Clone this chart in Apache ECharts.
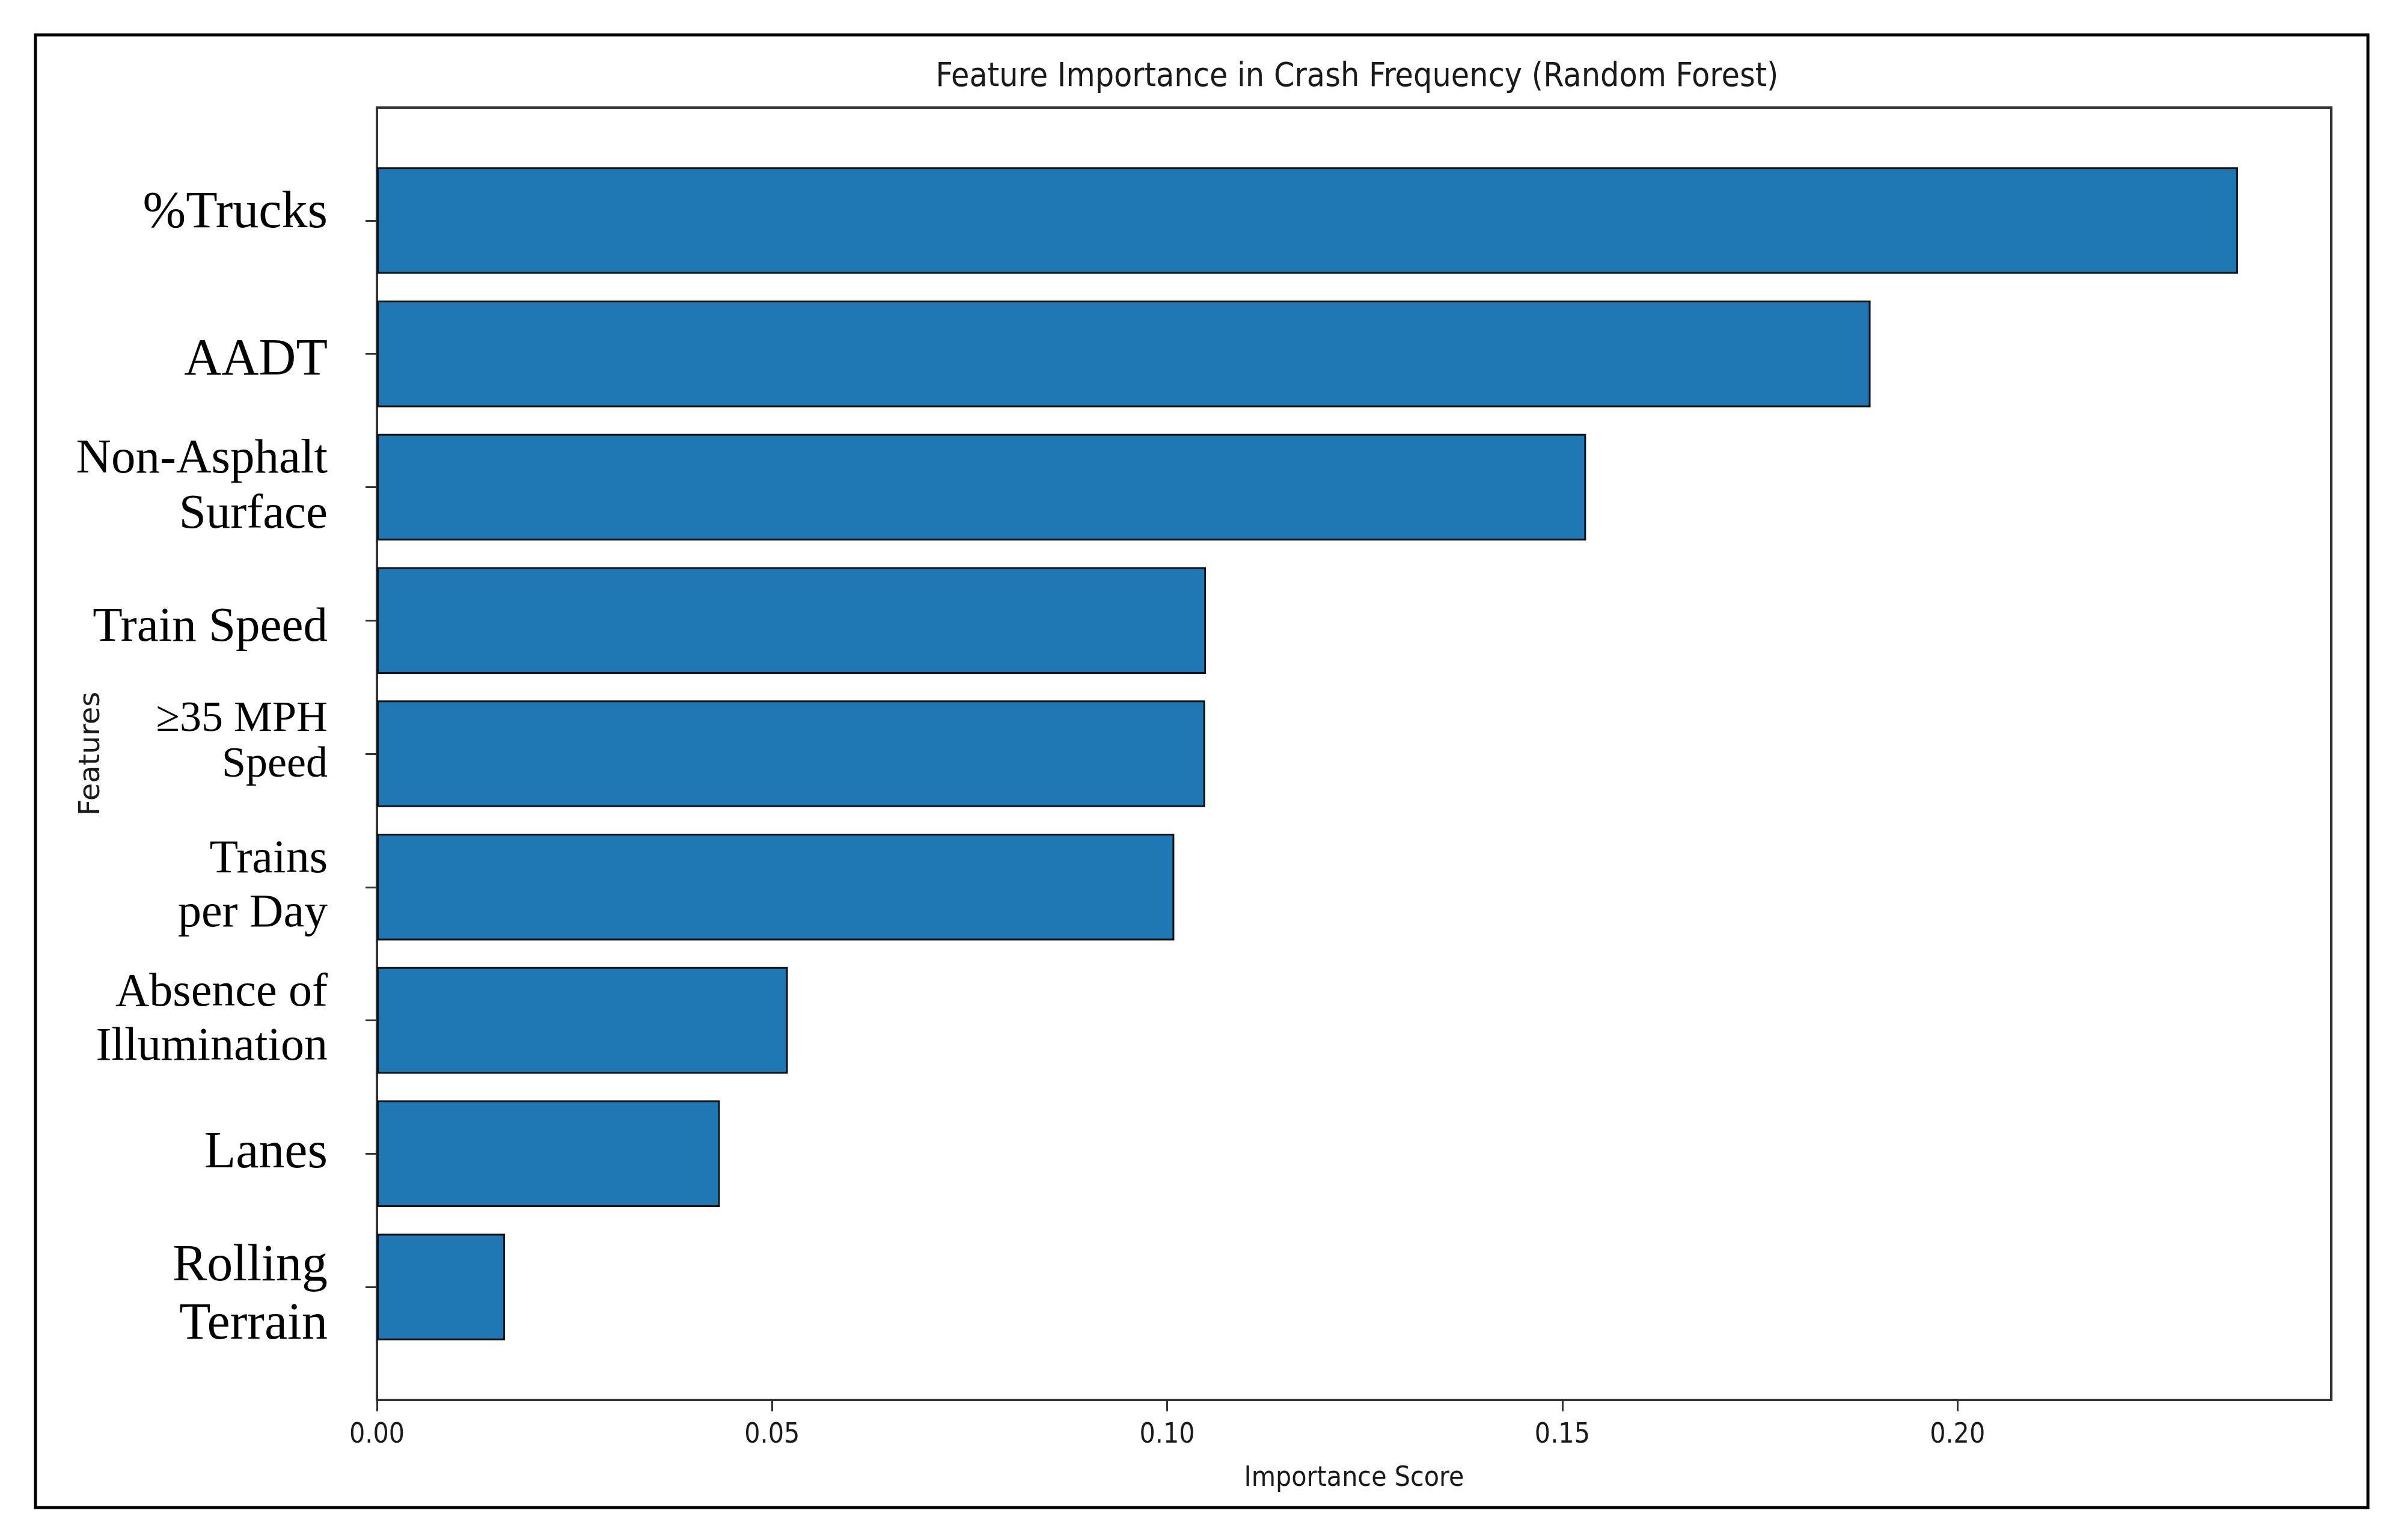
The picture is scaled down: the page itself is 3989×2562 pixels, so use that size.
<!DOCTYPE html>
<html>
<head>
<meta charset="utf-8">
<script src="https://cdn.jsdelivr.net/npm/echarts@6/dist/echarts.min.js"></script>
<style>
  html, body { margin: 0; padding: 0; background: #ffffff; }
  #chart { width: 3989px; height: 2562px; }
</style>
</head>
<body>
<div id="chart"></div>
<script>
// ---- data ----
const categories = ['%Trucks', 'AADT', 'Non-Asphalt\nSurface', 'Train Speed', '\u226535 MPH\nSpeed', 'Trains\nper Day', 'Absence of\nIllumination', 'Lanes', 'Rolling\nTerrain'];
const importance = [0.2355, 0.1890, 0.1530, 0.1049, 0.1048, 0.1009, 0.0520, 0.0434, 0.0162];
const xTicks = [0, 0.05, 0.10, 0.15, 0.20];
const titleText = 'Feature Importance in Crash Frequency (Random Forest)';
const xTitle = 'Importance Score';
const yTitle = 'Features';

// ---- styles (per label: style key for each line) ----
const labelLineStyles = {
  '%Trucks': ['aUp'],
  'AADT': ['aDown'],
  'Non-Asphalt\nSurface': ['b', 'b'],
  'Train Speed': ['bDown'],
  '\u226535 MPH\nSpeed': ['dUp', 'dUp'],
  'Trains\nper Day': ['c', 'c'],
  'Absence of\nIllumination': ['c', 'c'],
  'Lanes': ['a'],
  'Rolling\nTerrain': ['aDown2', 'aDown2']
};
const serif = 'Liberation Serif, Times New Roman, serif';
const sansC = '"DejaVu Sans Condensed", "DejaVu Sans", sans-serif';

const frame = { left: 627, right: 3878, top: 179, bottom: 2329 };
const W = 3989, H = 2562;
const bandTop = 256, bandBottom = 2252;

function serifStyle(size, lh, pad) {
  const s = { fontFamily: serif, fontSize: size, lineHeight: lh, color: '#000', align: 'right' };
  if (pad) s.padding = pad;
  return s;
}

const chart = echarts.init(document.getElementById('chart'), null, { renderer: 'canvas' });
chart.setOption({
  animation: false,
  backgroundColor: '#ffffff',
  title: {
    text: titleText,
    left: (frame.left + frame.right) / 2,
    textAlign: 'center',
    top: 96,
    textStyle: { fontFamily: sansC, fontSize: 55, fontWeight: 'normal', color: '#1a1a1a' }
  },
  grid: {
    left: frame.left,
    right: W - frame.right,
    top: bandTop,
    bottom: H - bandBottom,
    containLabel: false
  },
  xAxis: {
    type: 'value',
    min: 0,
    max: 0.2473,
    interval: 0.05,
    offset: frame.bottom - bandBottom,
    name: xTitle,
    nameLocation: 'middle',
    nameGap: 108,
    nameMoveOverlap: false,
    nameTextStyle: { fontFamily: sansC, fontSize: 46, color: '#1a1a1a' },
    axisLine: { show: true, lineStyle: { color: '#333', width: 4 } },
    axisTick: { show: true, length: 19, lineStyle: { color: '#333', width: 3 }, customValues: xTicks },
    axisLabel: {
      fontFamily: sansC, fontSize: 46, color: '#1a1a1a', margin: 36,
      customValues: xTicks,
      formatter: v => v.toFixed(2)
    },
    splitLine: { show: false }
  },
  yAxis: {
    type: 'category',
    inverse: true,
    data: categories,
    name: yTitle,
    nameLocation: 'middle',
    nameGap: 450,
    nameMoveOverlap: false,
    nameTextStyle: { fontFamily: 'DejaVu Sans, sans-serif', fontSize: 48, color: '#1a1a1a' },
    axisLine: { show: false },
    axisTick: { show: true, alignWithLabel: true, length: 19, lineStyle: { color: '#333', width: 3 } },
    axisLabel: {
      margin: 82,
      align: 'right',
      formatter: function (v) {
        const keys = labelLineStyles[v] || [];
        return v.split('\n').map((s, i) => '{' + (keys[i] || 'b') + '|' + s + '}').join('\n');
      },
      rich: {
        a: serifStyle(86, 97),
        aUp: serifStyle(86, 97, [0, 0, 22, 0]),
        aDown: serifStyle(86, 97, [24, 0, 0, 0]),
        aDown2: serifStyle(86, 97, [30, 0, 0, 0]),
        b: serifStyle(81, 92),
        bDown: serifStyle(81, 92, [26, 0, 0, 0]),
        c: serifStyle(78, 90),
        dUp: serifStyle(72, 76, [0, 0, 38, 0])
      }
    },
    splitLine: { show: false }
  },
  series: [{
    type: 'bar',
    data: importance,
    barCategoryGap: '20%',
    itemStyle: { color: '#1f77b4', borderColor: '#111', borderWidth: 3 },
    silent: true
  }],
  graphic: [
    {
      type: 'rect', z: -1, silent: true,
      shape: { x: frame.left, y: frame.top, width: frame.right - frame.left, height: frame.bottom - frame.top },
      style: { fill: 'none', stroke: '#333', lineWidth: 4 }
    },
    {
      type: 'rect', z: -1, silent: true,
      shape: { x: 59, y: 58, width: 3880, height: 2450 },
      style: { fill: 'none', stroke: '#000', lineWidth: 5 }
    }
  ]
});
</script>
</body>
</html>
